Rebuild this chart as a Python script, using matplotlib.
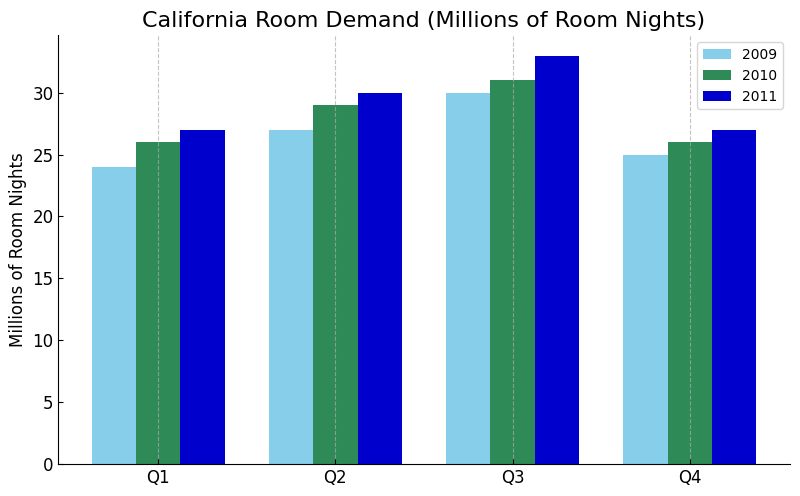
import matplotlib
matplotlib.use("Agg")
import matplotlib.pyplot as plt
import numpy as np

quarters = ["Q1", "Q2", "Q3", "Q4"]
years = ["2009", "2010", "2011"]
demand_2009 = [24, 27, 30, 25]
demand_2010 = [26, 29, 31, 26]
demand_2011 = [27, 30, 33, 27]
colors = ["skyblue", "seagreen", "mediumblue"]

fig, ax = plt.subplots(figsize=(8, 4.96), dpi=100)

x = np.arange(len(quarters))
width = 0.25
for i, (vals, year) in enumerate(zip([demand_2009, demand_2010, demand_2011], years)):
    ax.bar(x + (i - 1) * width, vals, width, label=year, color=colors[i])

ax.set_title("California Room Demand (Millions of Room Nights)", fontsize=16)
ax.set_ylabel("Millions of Room Nights", fontsize=12)
ax.set_xticks(x)
ax.set_xticklabels(quarters)
ax.tick_params(direction="in", labelsize=12)
ax.grid(axis="x", linestyle="--", color="#aaaaaa", alpha=0.7)
ax.spines["top"].set_visible(False)
ax.spines["right"].set_visible(False)
ax.legend(loc="upper right", fontsize=10)

fig.subplots_adjust(left=0.073, right=0.987, bottom=0.065, top=0.929)
plt.savefig("out.png", dpi=100)
